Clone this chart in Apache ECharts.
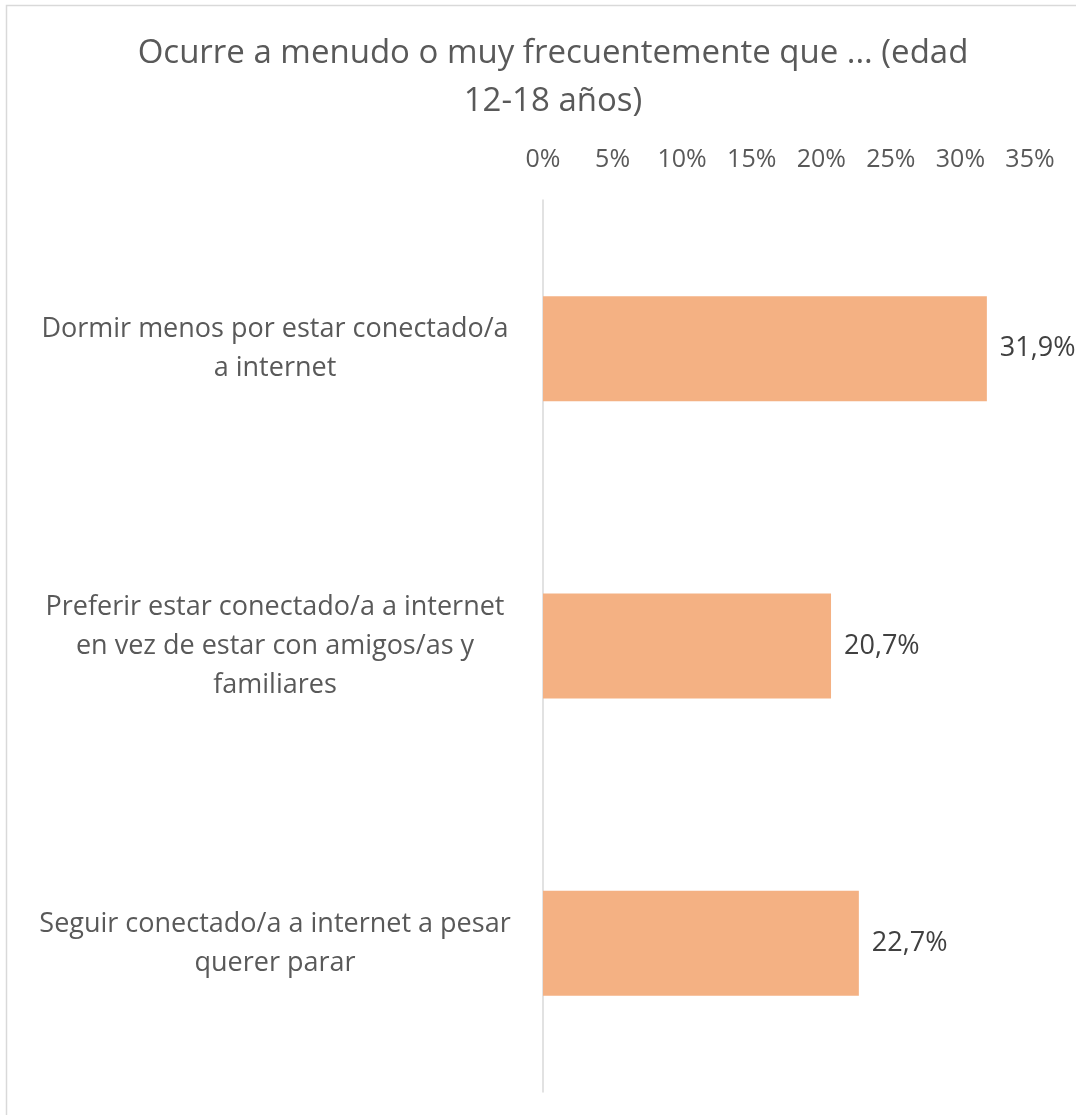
<!DOCTYPE html>
<html>
<head>
<meta charset="utf-8">
<script src="https://cdn.jsdelivr.net/npm/echarts@6/dist/echarts.min.js"></script>
<style>
	html, body { margin: 0; padding: 0; background: #fff; }
	#chart { width: 1076px; height: 1115px; }
</style>
</head>
<body>
<div id="chart"></div>
<script>
//datos
var categories = [
	'Dormir menos por estar conectado/a\na internet',
	'Preferir estar conectado/a a internet\nen vez de estar con amigos/as y\nfamiliares',
	'Seguir conectado/a a internet a pesar\nquerer parar'
];
var values = [31.9, 20.7, 22.7];
var tickMin = 0, tickMax = 35, tickStep = 5;

var txtColor = '#595959';
var font = '"Open Sans", "Noto Sans", sans-serif';

var myChart = echarts.init(document.getElementById('chart'));
var option = {
	animation: false,
	backgroundColor: '#fff',
	title: {
		text: 'Ocurre a menudo o muy frecuentemente que ... (edad\n12-18 años)',
		left: 548,
		top: 25,
		textAlign: 'center',
		textStyle: {
			color: txtColor,
			fontFamily: font,
			fontWeight: 'normal',
			fontSize: 33,
			lineHeight: 48
		}
	},
	graphic: [{
		type: 'rect',
		shape: { x: 6.5, y: 5.5, width: 1100, height: 1200 },
		style: { fill: 'none', stroke: '#d9d9d9', lineWidth: 1.5 },
		silent: true
	}],
	grid: {
		left: 543,
		right: 46,
		top: 200,
		bottom: 23,
		containLabel: false
	},
	xAxis: {
		type: 'value',
		position: 'top',
		min: tickMin,
		max: tickMax,
		interval: tickStep,
		axisLine: { show: false },
		axisTick: { show: false },
		splitLine: { show: false },
		axisLabel: {
			margin: 28,
			color: txtColor,
			fontFamily: font,
			fontSize: 25,
			formatter: function(v) {
				return v + '%'
			}
		}
	},
	yAxis: {
		type: 'category',
		inverse: true,
		data: categories,
		axisLine: { show: true, lineStyle: { color: '#d9d9d9', width: 1.5 } },
		axisTick: { show: false },
		axisLabel: {
			margin: 268,
			align: 'center',
			color: txtColor,
			fontFamily: font,
			fontSize: 27,
			lineHeight: 39
		}
	},
	series: [{
		type: 'bar',
		data: values,
		barWidth: 105,
		itemStyle: { color: '#F4B183' },
		label: {
			show: true,
			position: 'right',
			distance: 13,
			color: '#404040',
			fontFamily: font,
			fontSize: 27,
			formatter: function(p) {
				return p.value.toFixed(1).replace('.', ',') + '%'
			}
		}
	}]
};
myChart.setOption(option);
</script>
</body>
</html>
